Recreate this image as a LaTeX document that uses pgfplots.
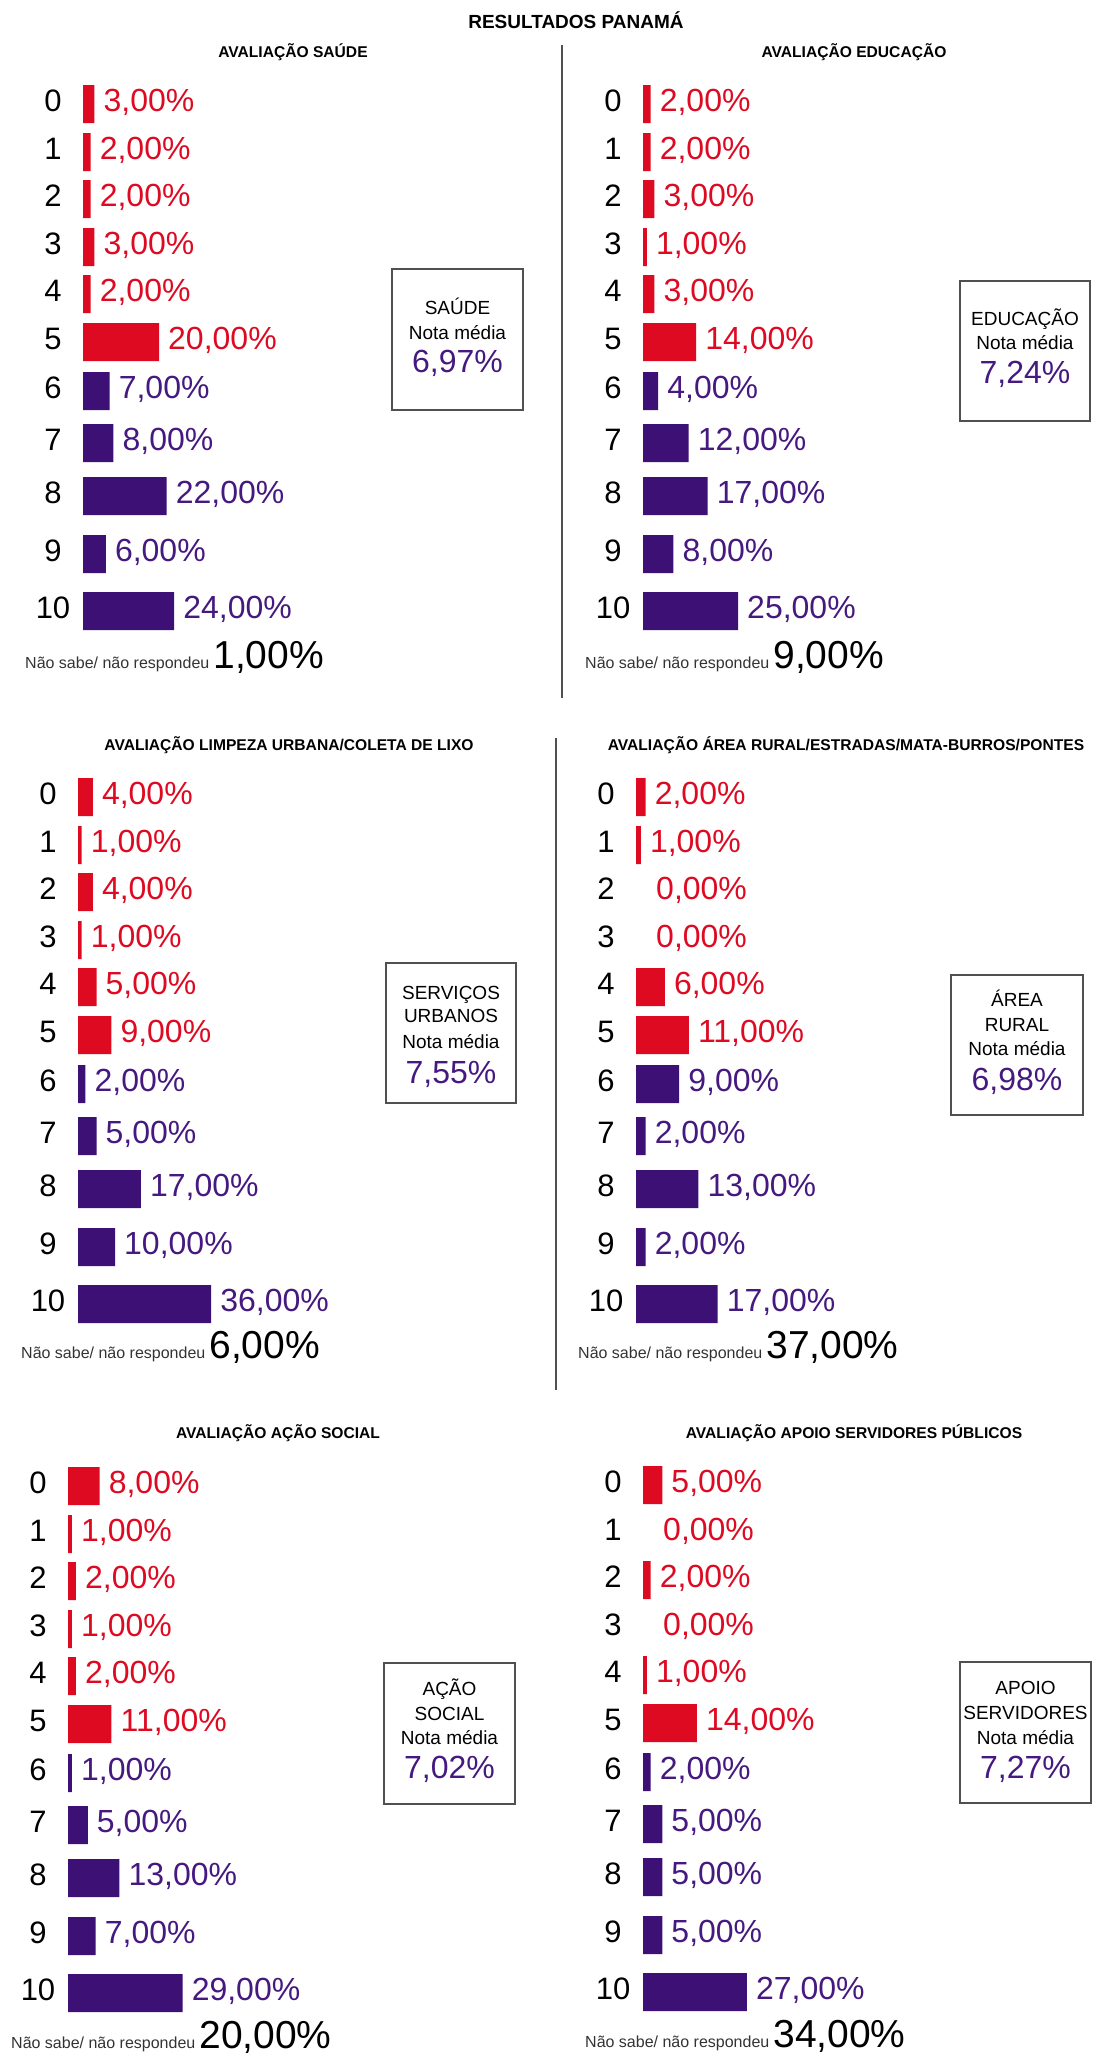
\documentclass[border=0pt]{standalone}
\usepackage{fontspec}
\setmainfont{Liberation Sans}
\usepackage{pgfplots}
\pgfplotsset{compat=1.18}
\definecolor{redc}{HTML}{DD0A22}
\definecolor{purc}{HTML}{3D1075}
\definecolor{purt}{HTML}{45197F}
\definecolor{linegray}{HTML}{505050}
\definecolor{nsgray}{HTML}{333333}
\newcommand\catfont{\fontsize{31}{31}\selectfont}
\newcommand\valfont{\fontsize{32}{32}\selectfont}
\newcommand\titfont{\fontsize{15.6}{15.6}\selectfont\bfseries}
\newcommand\boxfont{\fontsize{19}{19}\selectfont}
\newcommand\nsfont{\fontsize{16}{16}\selectfont}
\newcommand\nsvfont{\fontsize{39}{39}\selectfont}
\newcommand\bval{\fontsize{32}{32}\selectfont\color{purt}}

\pgfplotsset{
  panel/.style={
    xbar, bar width=38pt,
    y=1pt, y dir=reverse,
    xmin=0, xmax=40, ymin=-25, ymax=530,
    clip=false,
    axis line style={draw=none},
    major tick length=0pt,
    xtick=\empty,
    ytick={0,48,95,143,190,238,287,339,392,450,507},
    yticklabels={0,1,2,3,4,5,6,7,8,9,10},
    yticklabel style={font=\catfont, anchor=center, xshift=-30pt, yshift=3.5pt, text=black},
    anchor=north west,
    point meta=x,
    nodes near coords={\pgfmathprintnumber[fixed,fixed zerofill,precision=2,use comma,assume math mode=true]{\pgfplotspointmeta}\%},
    nodes near coords align=horizontal,
    every node near coord/.append style={font=\valfont, anchor=west, inner sep=0pt, xshift=9pt, yshift=2pt},
  },
  redbars/.style={fill=redc, draw=none, bar shift=0pt, every node near coord/.append style={text=redc}},
  purbars/.style={fill=purc, draw=none, bar shift=0pt, every node near coord/.append style={text=purt}},
  zerobars/.style={fill=none, draw=none, bar shift=0pt, every node near coord/.append style={text=redc, xshift=11pt}},
}

\begin{document}
\begin{tikzpicture}
\path[use as bounding box] (0pt,0pt) rectangle (1100pt,-2061pt);

% main title
\node[anchor=base, inner sep=0pt, font=\fontsize{19}{19}\selectfont\bfseries] at (576pt,-28pt) {RESULTADOS PANAMÁ};

% panel titles
\node[anchor=base, inner sep=0pt, font=\titfont] at (293pt,-57.6pt) {AVALIAÇÃO SAÚDE};
\node[anchor=base, inner sep=0pt, font=\titfont] at (854pt,-57.6pt) {AVALIAÇÃO EDUCAÇÃO};
\node[anchor=base, inner sep=0pt, font=\titfont] at (289pt,-750.6pt) {AVALIAÇÃO LIMPEZA URBANA/COLETA DE LIXO};
\node[anchor=base, inner sep=0pt, font=\titfont] at (846pt,-750.6pt) {AVALIAÇÃO ÁREA RURAL/ESTRADAS/MATA-BURROS/PONTES};
\node[anchor=base, inner sep=0pt, font=\titfont] at (278pt,-1438.6pt) {AVALIAÇÃO AÇÃO SOCIAL};
\node[anchor=base, inner sep=0pt, font=\titfont] at (854pt,-1438.6pt) {AVALIAÇÃO APOIO SERVIDORES PÚBLICOS};

% dividers
\draw[line width=2pt, linegray] (562pt,-45pt) -- (562pt,-698pt);
\draw[line width=2pt, linegray] (556pt,-738pt) -- (556pt,-1390pt);

% ---------- Panel 1: Saude ----------
\begin{axis}[panel, at={(83pt,-79pt)}, x=3.8pt]
\addplot[redbars] table[x=val,y=pos]{
nota pos val
0 0 3
1 48 2
2 95 2
3 143 3
4 190 2
5 238 20
};
\addplot[purbars] table[x=val,y=pos]{
nota pos val
6 287 7
7 339 8
8 392 22
9 450 6
10 507 24
};
\end{axis}

% ---------- Panel 2: Educacao ----------
\begin{axis}[panel, at={(643pt,-79pt)}, x=3.8pt]
\addplot[redbars] table[x=val,y=pos]{
nota pos val
0 0 2
1 48 2
2 95 3
3 143 1
4 190 3
5 238 14
};
\addplot[purbars] table[x=val,y=pos]{
nota pos val
6 287 4
7 339 12
8 392 17
9 450 8
10 507 25
};
\end{axis}

% ---------- Panel 3: Limpeza ----------
\begin{axis}[panel, at={(78pt,-772pt)}, x=3.7pt]
\addplot[redbars] table[x=val,y=pos]{
nota pos val
0 0 4
1 48 1
2 95 4
3 143 1
4 190 5
5 238 9
};
\addplot[purbars] table[x=val,y=pos]{
nota pos val
6 287 2
7 339 5
8 392 17
9 450 10
10 507 36
};
\end{axis}

% ---------- Panel 4: Area rural ----------
\begin{axis}[panel, at={(636pt,-772pt)}, x=4.8pt]
\addplot[redbars] table[x=val,y=pos]{
nota pos val
0 0 2
1 48 1
4 190 6
5 238 11
};
\addplot[zerobars] table[x=val,y=pos]{
nota pos val
2 95 0
3 143 0
};
\addplot[purbars] table[x=val,y=pos]{
nota pos val
6 287 9
7 339 2
8 392 13
9 450 2
10 507 17
};
\end{axis}

% ---------- Panel 5: Acao social ----------
\begin{axis}[panel, at={(68pt,-1461pt)}, x=3.95pt]
\addplot[redbars] table[x=val,y=pos]{
nota pos val
0 0 8
1 48 1
2 95 2
3 143 1
4 190 2
5 238 11
};
\addplot[purbars] table[x=val,y=pos]{
nota pos val
6 287 1
7 339 5
8 392 13
9 450 7
10 507 29
};
\end{axis}

% ---------- Panel 6: Apoio servidores ----------
\begin{axis}[panel, at={(643pt,-1460pt)}, x=3.85pt]
\addplot[redbars] table[x=val,y=pos]{
nota pos val
0 0 5
2 95 2
4 190 1
5 238 14
};
\addplot[zerobars] table[x=val,y=pos]{
nota pos val
1 48 0
3 143 0
};
\addplot[purbars] table[x=val,y=pos]{
nota pos val
6 287 2
7 339 5
8 392 5
9 450 5
10 507 27
};
\end{axis}

% Nao sabe / nao respondeu
\node[anchor=base west, inner sep=0pt] at (25pt,-668pt) {{\nsfont\color{nsgray}Não sabe/ não respondeu}\hspace{4pt}{\nsvfont 1,00\%}};
\node[anchor=base west, inner sep=0pt] at (585pt,-668pt) {{\nsfont\color{nsgray}Não sabe/ não respondeu}\hspace{4pt}{\nsvfont 9,00\%}};
\node[anchor=base west, inner sep=0pt] at (21pt,-1358pt) {{\nsfont\color{nsgray}Não sabe/ não respondeu}\hspace{4pt}{\nsvfont 6,00\%}};
\node[anchor=base west, inner sep=0pt] at (578pt,-1358pt) {{\nsfont\color{nsgray}Não sabe/ não respondeu}\hspace{4pt}{\nsvfont 37,00\%}};
\node[anchor=base west, inner sep=0pt] at (11pt,-2048pt) {{\nsfont\color{nsgray}Não sabe/ não respondeu}\hspace{4pt}{\nsvfont 20,00\%}};
\node[anchor=base west, inner sep=0pt] at (585pt,-2047pt) {{\nsfont\color{nsgray}Não sabe/ não respondeu}\hspace{4pt}{\nsvfont 34,00\%}};

% Nota media boxes
\begin{scope}[every node/.style={anchor=base, inner sep=0pt}]
\draw[line width=1.6pt, linegray] (392pt,-269pt) rectangle (523pt,-410pt);
\node[font=\boxfont] at (457.5pt,-314pt) {SAÚDE};
\node[font=\boxfont] at (457.5pt,-339pt) {Nota média};
\node[font=\bval] at (457.5pt,-372.5pt) {6,97\%};

\draw[line width=1.6pt, linegray] (960pt,-281pt) rectangle (1090pt,-421pt);
\node[font=\boxfont] at (1025pt,-325pt) {EDUCAÇÃO};
\node[font=\boxfont] at (1025pt,-349pt) {Nota média};
\node[font=\bval] at (1025pt,-383.5pt) {7,24\%};

\draw[line width=1.6pt, linegray] (386pt,-963pt) rectangle (516pt,-1103pt);
\node[font=\boxfont] at (451pt,-999pt) {SERVIÇOS};
\node[font=\boxfont] at (451pt,-1022pt) {URBANOS};
\node[font=\boxfont] at (451pt,-1048pt) {Nota média};
\node[font=\bval] at (451pt,-1083.5pt) {7,55\%};

\draw[line width=1.6pt, linegray] (951pt,-975pt) rectangle (1083pt,-1115pt);
\node[font=\boxfont] at (1017pt,-1006pt) {ÁREA};
\node[font=\boxfont] at (1017pt,-1031pt) {RURAL};
\node[font=\boxfont] at (1017pt,-1055pt) {Nota média};
\node[font=\bval] at (1017pt,-1090.5pt) {6,98\%};

\draw[line width=1.6pt, linegray] (384pt,-1663pt) rectangle (515pt,-1804pt);
\node[font=\boxfont] at (449.5pt,-1695pt) {AÇÃO};
\node[font=\boxfont] at (449.5pt,-1720pt) {SOCIAL};
\node[font=\boxfont] at (449.5pt,-1744pt) {Nota média};
\node[font=\bval] at (449.5pt,-1778.5pt) {7,02\%};

\draw[line width=1.6pt, linegray] (960pt,-1662pt) rectangle (1091pt,-1803pt);
\node[font=\boxfont] at (1025.5pt,-1694pt) {APOIO};
\node[font=\boxfont] at (1025.5pt,-1719pt) {SERVIDORES};
\node[font=\boxfont] at (1025.5pt,-1744pt) {Nota média};
\node[font=\bval] at (1025.5pt,-1778.5pt) {7,27\%};
\end{scope}

\end{tikzpicture}
\end{document}
